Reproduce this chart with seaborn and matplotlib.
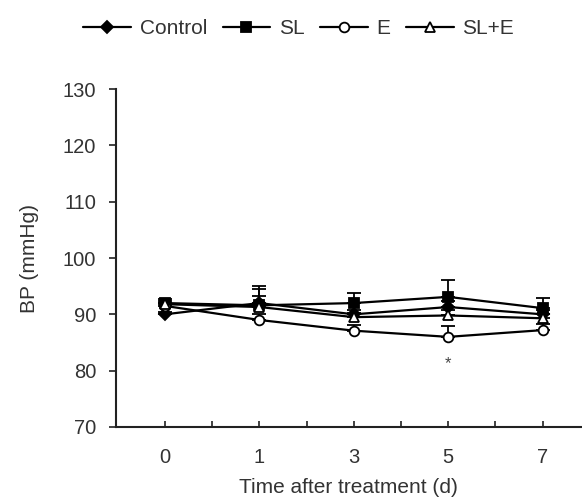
import numpy as np
import pandas as pd
import matplotlib
matplotlib.use("Agg")
import matplotlib.pyplot as plt
import seaborn as sns

# data
days = ["0", "1", "3", "5", "7"]
control = [90, 92, 90, 91.3, 90]
control_err = [0.5, 2.5, 0.8, 1.0, 0.8]
sl = [92, 91.6, 92, 93.1, 91.1]
sl_err = [0.8, 3.4, 1.8, 3.0, 1.8]
e = [91.5, 89, 87.1, 86, 87.2]
e_err = [0.5, 1.0, 1.0, 2.0, 1.0]
sle = [91.8, 91.3, 89.5, 89.8, 89.3]
sle_err = [0.5, 2.0, 0.8, 1.0, 0.8]

series = [
    ("Control", control, control_err, "D", "black", 6),
    ("SL", sl, sl_err, "s", "black", 7),
    ("E", e, e_err, "o", "white", 7),
    ("SL+E", sle, sle_err, "^", "white", 7),
]

sns.set_style("ticks")
plt.rcParams["font.family"] = ["Liberation Sans", "DejaVu Sans"]
plt.rcParams["font.size"] = 15
plt.rcParams["text.color"] = "#333333"
plt.rcParams["axes.labelcolor"] = "#333333"
plt.rcParams["xtick.color"] = "#333333"
plt.rcParams["ytick.color"] = "#333333"

fig = plt.figure(figsize=(5.82, 4.99), dpi=100)
ax = fig.add_axes([0.199, 0.1443, 0.80, 0.6773])

pos = np.arange(len(days))
for name, vals, err, marker, face, ms in series:
    # only the upper half of the error bar is drawn in the original
    ax.errorbar(pos, vals, yerr=[np.zeros(len(err)), err], fmt="none",
                ecolor="black", elinewidth=1.3, capsize=5, capthick=1.3, zorder=2)
    sns.lineplot(x=pos, y=vals, ax=ax, color="black", linewidth=1.6,
                 marker=marker, markersize=ms, markerfacecolor=face,
                 markeredgecolor="black", markeredgewidth=1.3, label=name, zorder=3)

ax.text(3, 81.3, "*", ha="center", va="center", fontsize=12, color="#444444")

ax.set_xlim(-0.519, 4.41)
ax.set_ylim(70, 130)
ax.set_yticks(range(70, 131, 10))
ax.set_xticks(pos)
ax.set_xticklabels(days)
ax.set_xticks(np.arange(0.5, 4.0, 1.0), minor=True)
ax.tick_params(axis="both", labelsize=14.5)
ax.tick_params(axis="x", which="both", direction="in", length=4, width=1.3, pad=15)
ax.tick_params(axis="y", direction="out", length=5, width=1.3, pad=9)
ax.set_xlabel("Time after treatment (d)", labelpad=8)
ax.set_ylabel("BP (mmHg)", labelpad=17)
for sp in ["left", "bottom"]:
    ax.spines[sp].set_linewidth(1.5)
    ax.spines[sp].set_color("#222222")
sns.despine(ax=ax)

handles, labels = ax.get_legend_handles_labels()
ax.legend_.remove()
fig.legend(handles, labels, loc="center", bbox_to_anchor=(0.513, 0.942), ncol=4,
           frameon=False, handlelength=2.3, handletextpad=0.4, columnspacing=0.75,
           fontsize=15)

fig.savefig("out.png", dpi=100)
